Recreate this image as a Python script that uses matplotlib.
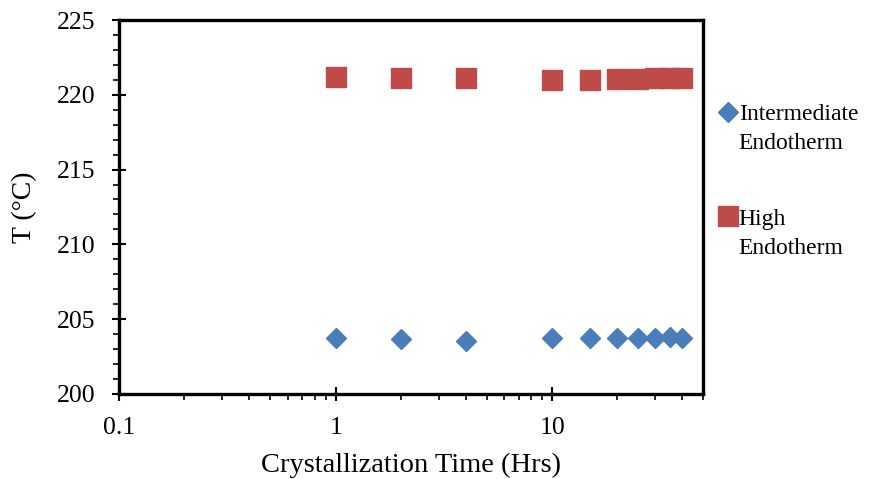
import numpy as np
import matplotlib.pyplot as plt
from matplotlib.ticker import LogLocator, MultipleLocator, FixedLocator, FixedFormatter

# Crystallization time (hrs) and endotherm peak temperatures (deg C)
time_hrs = [1, 2, 4, 10, 15, 20, 25, 30, 35, 40]
intermediate = [203.76, 203.66, 203.56, 203.74, 203.70, 203.72, 203.72, 203.72, 203.80, 203.76]
high = [221.20, 221.13, 221.10, 220.98, 221.02, 221.05, 221.05, 221.10, 221.10, 221.13]

x_ticks = [0.1, 1, 10]
x_tick_labels = ['0.1', '1', '10']

plt.rcParams['font.family'] = ['Liberation Serif', 'DejaVu Serif']

fig = plt.figure(figsize=(8.76, 4.79), dpi=100)
ax = fig.add_axes([0.136, 0.178, 0.667, 0.780])

ax.plot(time_hrs, intermediate, linestyle='none', marker='D', markersize=10,
        color='#4a7ebb', label='Intermediate\nEndotherm')
ax.plot(time_hrs, high, linestyle='none', marker='s', markersize=14,
        color='#be4b48', label='High\nEndotherm')

ax.set_xscale('log')
ax.set_xlim(0.1, 50)
ax.set_ylim(200, 225)

ax.xaxis.set_major_locator(FixedLocator(x_ticks))
ax.xaxis.set_major_formatter(FixedFormatter(x_tick_labels))
ax.xaxis.set_minor_locator(LogLocator(base=10, subs=np.arange(2, 10)))
ax.xaxis.set_minor_formatter(FixedFormatter([]))
ax.yaxis.set_major_locator(MultipleLocator(5))
ax.yaxis.set_minor_locator(MultipleLocator(1))

for s in ax.spines.values():
    s.set_linewidth(2.4)
    s.set_color('black')

ax.tick_params(which='major', direction='inout', length=10, width=1.5,
               labelsize=18.5)
ax.tick_params(which='minor', direction='out', length=4, width=1.2)
ax.tick_params(axis='y', which='major', pad=12)
ax.tick_params(axis='x', which='major', pad=12)

ax.set_xlabel('Crystallization Time (Hrs)', fontsize=20.5, labelpad=10)
ax.set_ylabel('T (°C)', fontsize=20, labelpad=14)

leg = ax.legend(loc='upper left', bbox_to_anchor=(1.01, 0.80), frameon=False,
                fontsize=17, handlelength=0.8, handletextpad=0.05,
                labelspacing=2.3, borderaxespad=0, numpoints=1)
for t in leg.get_texts():
    t.set_linespacing(1.5)
# put the marker level with the first text line, as in the reference
for h in leg.legend_handles:
    h.set_ydata(np.asarray(h.get_ydata()) + 12.5)

fig.savefig('out.png', dpi=100)
